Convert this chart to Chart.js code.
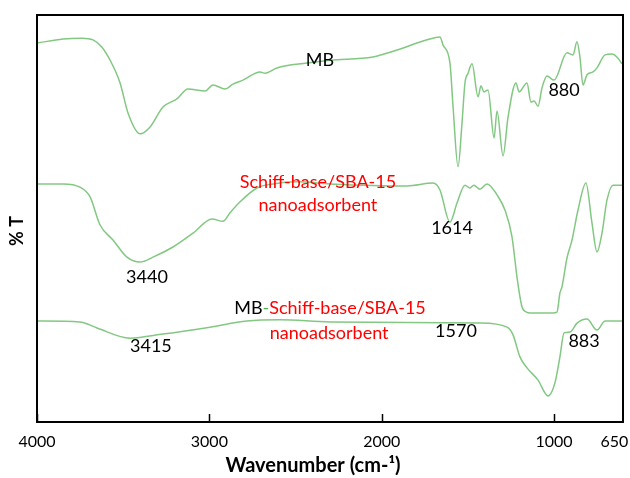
<!DOCTYPE html>
<html lang="en">
<head>
  <meta charset="UTF-8">
  <title>FTIR spectra</title>
  <script src="https://cdn.jsdelivr.net/npm/chart.js"></script>
  <style>
    body {
      margin: 0;
      background: #ffffff;
    }
    .chart-box {
      width: 630px;
      height: 478px;
    }
  </style>
</head>
<body>

<div class="chart-box">
  <canvas id="chartFtir"></canvas>
</div>

<script>
  // wavenumber (cm-1) and %T (arbitrary offset units)
  const mbWave = [4000, 3849, 3739, 3675, 3623, 3576, 3518, 3472, 3402, 3344, 3269, 3188, 3124, 3025, 2979, 2909, 2863, 2805, 2706, 2677, 2608, 2433, 2300, 2051, 1911, 1737, 1662, 1644, 1604, 1586, 1557, 1534, 1517, 1499, 1476, 1441, 1424, 1407, 1383, 1348, 1331, 1296, 1267, 1221, 1203, 1157, 1134, 1116, 1093, 1070, 1041, 1000, 925, 890, 867, 850, 832, 809, 774, 751, 704, 664, 629, 606];
  const mbT = [93.1, 94.1, 94.3, 93.9, 92.1, 88.9, 83.3, 75.9, 70.8, 72.5, 77.4, 79.4, 81.8, 81.3, 82.8, 81.8, 83.0, 84.0, 86.0, 85.7, 87.0, 88.2, 88.9, 89.7, 91.4, 93.9, 94.6, 92.6, 88.2, 77.4, 62.7, 73.5, 83.3, 85.7, 88.0, 79.9, 82.6, 81.1, 81.6, 69.8, 76.4, 65.4, 74.9, 83.3, 81.1, 83.3, 78.6, 78.9, 77.6, 82.1, 85.0, 84.0, 90.7, 90.2, 93.4, 89.7, 82.8, 85.3, 86.0, 87.0, 90.2, 90.4, 89.4, 88.0];

  const sbWave = [4000, 3849, 3751, 3692, 3634, 3559, 3478, 3402, 3327, 3211, 3095, 2985, 2921, 2880, 2822, 2724, 2631, 2491, 2300, 1853, 1702, 1662, 1604, 1563, 1517, 1488, 1465, 1430, 1389, 1331, 1285, 1244, 1215, 1186, 1160, 1140, 1122, 1006, 983, 966, 954, 925, 896, 861, 815, 780, 751, 722, 693, 658, 606];
  const sbT = [58.5, 58.5, 57.7, 55.3, 48.4, 44.7, 40.5, 39.3, 40.5, 43.0, 46.4, 49.9, 49.3, 51.4, 54.1, 57.5, 58.5, 59.0, 58.5, 58.0, 58.7, 57.0, 49.1, 53.8, 58.2, 57.5, 58.2, 57.2, 58.5, 55.8, 52.1, 45.5, 35.6, 28.3, 27.0, 26.8, 26.8, 26.8, 27.0, 31.7, 33.2, 40.3, 44.7, 52.1, 58.7, 48.9, 41.8, 46.4, 54.5, 58.2, 58.2];

  const mbsbWave = [4000, 3751, 3652, 3460, 3269, 2996, 2782, 2590, 2300, 1430, 1273, 1238, 1198, 1157, 1093, 1035, 995, 966, 942, 908, 867, 809, 751, 704, 606];
  const mbsbT = [24.8, 24.6, 23.1, 20.6, 21.6, 23.3, 24.8, 25.1, 24.6, 24.3, 23.3, 21.4, 16.0, 13.3, 10.3, 6.4, 9.6, 16.0, 21.9, 22.1, 24.3, 25.3, 22.6, 24.8, 24.8];

  const xTicks = [4000, 3000, 2000, 1000, 650];
  const tickMarks = [4000, 3000, 2000, 1000];

  // annotation texts placed in data units
  const notes = [
    { parts: [['MB', '#000']], x: 2358, y: 88.9 },
    { parts: [['880', '#000']], x: 942, y: 81.6 },
    { parts: [['Schiff-base/SBA-15', '#ff0000']], x: 2370, y: 59.0 },
    { parts: [['nanoadsorbent', '#ff0000']], x: 2370, y: 53.3 },
    { parts: [['1614', '#000']], x: 1592, y: 47.7 },
    { parts: [['3440', '#000']], x: 3362, y: 35.6 },
    { parts: [['MB', '#000'], ['-', '#4caf50'], ['Schiff-base/SBA-15', '#ff0000']], x: 2300, y: 28.0 },
    { parts: [['nanoadsorbent', '#ff0000']], x: 2305, y: 21.9 },
    { parts: [['3415', '#000']], x: 3339, y: 18.7 },
    { parts: [['1570', '#000']], x: 1569, y: 22.4 },
    { parts: [['883', '#000']], x: 826, y: 19.9 }
  ];

  const lineColor = '#82c882';
  const toPoints = (xs, ys) => xs.map((x, i) => ({ x: x, y: ys[i] }));

  function makeSet(label, xs, ys) {
    return {
      label: label,
      data: toPoints(xs, ys),
      borderColor: lineColor,
      borderWidth: 1.5,
      pointRadius: 0,
      cubicInterpolationMode: 'monotone',
      fill: false
    };
  }

  // frame, inward ticks, titles and labels
  const decorations = {
    id: 'decorations',
    afterDraw(chart) {
      const ctx = chart.ctx;
      const area = chart.chartArea;
      const xs = chart.scales.x;
      const ys = chart.scales.y;
      ctx.save();

      ctx.strokeStyle = '#000';
      ctx.lineWidth = 2;
      ctx.strokeRect(area.left, area.top, area.right - area.left, area.bottom - area.top);

      ctx.lineWidth = 1.5;
      tickMarks.forEach(v => {
        const px = Math.round(xs.getPixelForValue(v)) + 0.5;
        ctx.beginPath();
        ctx.moveTo(px, area.bottom);
        ctx.lineTo(px, area.bottom - 8);
        ctx.stroke();
      });

      ctx.font = '18px Lato';
      ctx.textBaseline = 'middle';
      ctx.textAlign = 'left';
      notes.forEach(n => {
        const total = n.parts.reduce((s, p) => s + ctx.measureText(p[0]).width, 0);
        let px = xs.getPixelForValue(n.x) - total / 2;
        const py = ys.getPixelForValue(n.y);
        n.parts.forEach(p => {
          ctx.fillStyle = p[1];
          ctx.fillText(p[0], px, py);
          px += ctx.measureText(p[0]).width;
        });
      });

      ctx.fillStyle = '#000';
      ctx.font = 'bold 20px Lato';
      ctx.textAlign = 'center';
      ctx.fillText('Wavenumber (cm-\u00B9)', 313, 466);

      ctx.font = 'bold 18px Lato';
      ctx.translate(17, 231);
      ctx.rotate(-Math.PI / 2);
      ctx.fillText('% T', 0, 0);
      ctx.restore();
    }
  };

  new Chart(document.getElementById('chartFtir'), {
    type: 'line',
    data: {
      datasets: [
        makeSet('MB', mbWave, mbT),
        makeSet('Schiff-base/SBA-15 nanoadsorbent', sbWave, sbT),
        makeSet('MB-Schiff-base/SBA-15 nanoadsorbent', mbsbWave, mbsbT)
      ]
    },
    options: {
      responsive: true,
      maintainAspectRatio: false,
      animation: false,
      layout: { padding: { left: 37, right: 7, top: 15, bottom: 0 } },
      plugins: {
        legend: { display: false },
        tooltip: { enabled: false }
      },
      scales: {
        x: {
          type: 'linear',
          reverse: true,
          min: 600,
          max: 4000,
          afterBuildTicks: scale => {
            scale.ticks = xTicks.map(v => ({ value: v }));
          },
          afterFit: scale => {
            scale.height = 56;
            scale.paddingLeft = 0;
            scale.paddingRight = 0;
          },
          grid: { display: false, drawTicks: false },
          border: { display: false },
          ticks: {
            padding: 10,
            color: '#000',
            font: { family: 'Lato', size: 16 },
            maxRotation: 0,
            autoSkip: false,
            callback: v => String(v)
          }
        },
        y: {
          display: false,
          min: 0,
          max: 100
        }
      }
    },
    plugins: [decorations]
  });
</script>

</body>
</html>
